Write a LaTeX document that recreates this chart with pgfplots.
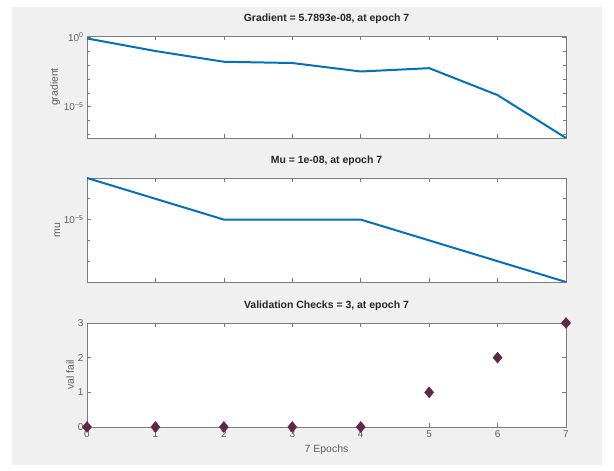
\documentclass[border=0pt]{standalone}
\usepackage{pgfplots}
\pgfplotsset{compat=1.18}
\usepackage{fontspec}
\setmainfont{Liberation Sans}

\definecolor{mblue}{RGB}{0,114,189}
\definecolor{figgray}{RGB}{240,240,240}
\definecolor{axgray}{RGB}{125,125,125}
\definecolor{txtgray}{RGB}{95,95,95}
\definecolor{vmark}{RGB}{95,40,70}

\pgfplotsset{
  mstyle/.style={
    scale only axis, width=479bp, anchor=south west,
    xmin=0, xmax=7, xtick={0,...,7},
    axis background/.style={fill=white},
    axis line style={axgray, line width=0.6pt},
    tick style={axgray, line width=0.6pt},
    tick align=inside, tick pos=both,
    major tick length=4bp, minor tick length=3bp,
    /pgf/number format/assume math mode=true,
    tick label style={font=\fontsize{10}{12}\selectfont, text=txtgray},
    label style={font=\fontsize{10.5}{12}\selectfont, text=txtgray},
    title style={font=\fontsize{10.5}{12}\selectfont\bfseries, text=black!85,
                 at={(0.5,1)}, anchor=south, inner sep=0pt, yshift=6bp},
    ylabel style={yshift=-3bp},
  },
  mline/.style={mblue, line width=2pt, line join=round, no marks},
}

\begin{document}
\begin{tikzpicture}[x=1bp,y=1bp]
\path[use as bounding box] (0,0) rectangle (614,471);
\fill[white] (0,0) rectangle (614,471);
\fill[figgray] (12,6) rectangle (602,464);

% gradient
\begin{axis}[mstyle, at={(87bp,333bp)}, height=102bp,
  ymode=log, ymin=5.7893e-8, ymax=1.2,
  ytick={1,1e-5}, yticklabels={10\textsuperscript{0},10\textsuperscript{−5}},
  minor ytick={1e-1,1e-2,1e-3,1e-4,1e-6,1e-7},
  xticklabels={},
  title={Gradient = 5.7893e-08, at epoch 7},
  ylabel={gradient}]
\addplot[mline] coordinates {
  (0,0.8) (1,0.10) (2,0.017) (3,0.0138) (4,0.0034) (5,0.0059) (6,6.9e-5) (7,5.7893e-8)
};
\end{axis}

% mu
\begin{axis}[mstyle, at={(87bp,189bp)}, height=104bp,
  ymode=log, ymin=1e-8, ymax=1e-3,
  ytick={1e-5}, yticklabels={10\textsuperscript{−5}},
  minor ytick={1e-4,1e-6,1e-7},
  xticklabels={},
  title={Mu = 1e-08, at epoch 7},
  ylabel={mu}]
\addplot[mline] coordinates {
  (0,1e-3) (1,1e-4) (2,1e-5) (3,1e-5) (4,1e-5) (5,1e-6) (6,1e-7) (7,1e-8)
};
\end{axis}

% validation checks
\begin{axis}[mstyle, at={(87bp,44bp)}, height=104bp,
  ymin=0, ymax=3, ytick={0,1,2,3}, clip=false,
  title={Validation Checks = 3, at epoch 7},
  xlabel={7 Epochs}, ylabel={val fail},
  xlabel style={yshift=-1bp}]
\addplot[only marks, mark=diamond*, mark size=5.5bp,
  mark options={fill=vmark, draw=vmark, xscale=1.1}] coordinates {
  (0,0) (1,0) (2,0) (3,0) (4,0) (5,1) (6,2) (7,3)
};
\end{axis}
\end{tikzpicture}
\end{document}
